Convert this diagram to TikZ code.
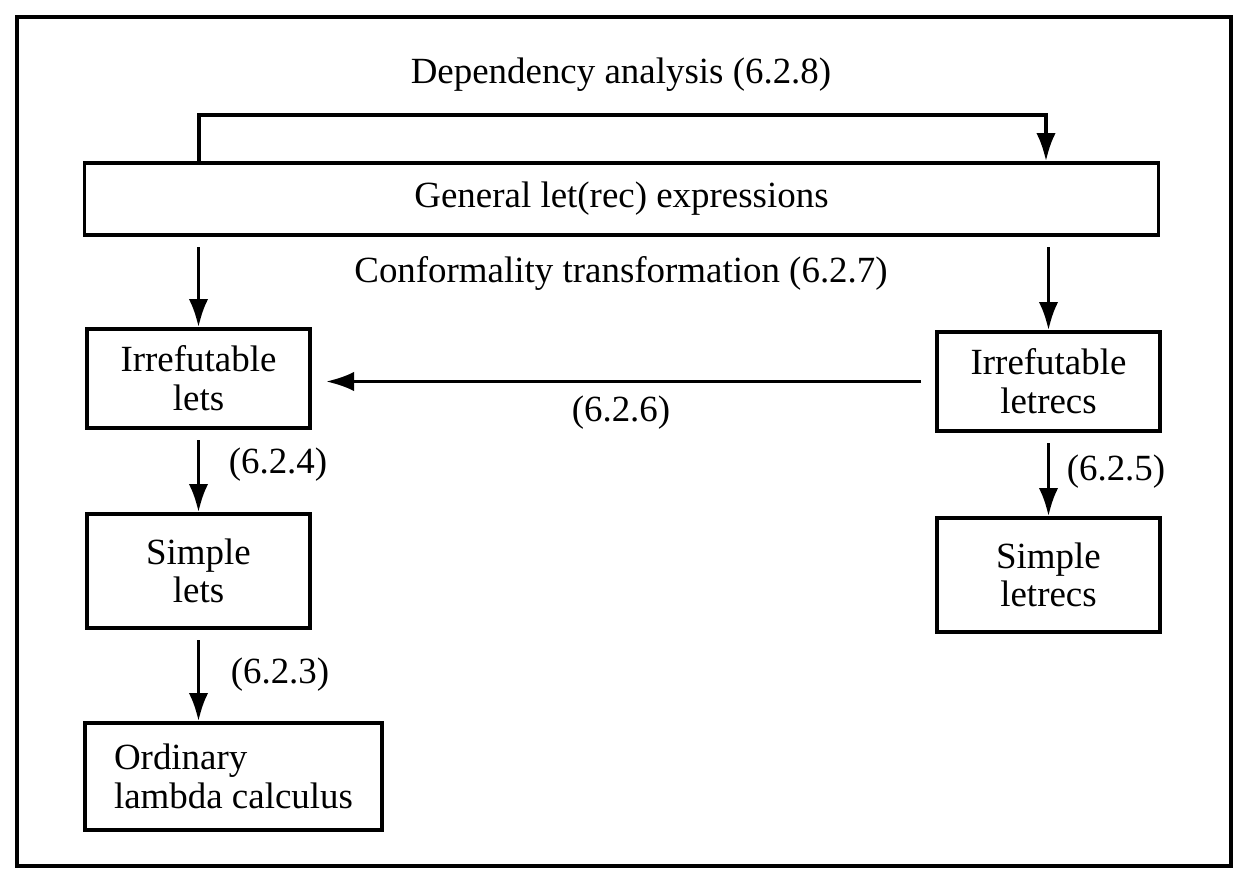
\documentclass[tikz,border=0pt]{standalone}
\usepackage{fontspec}
\setmainfont{Liberation Serif}
\usetikzlibrary{arrows.meta}

\begin{document}
\begin{tikzpicture}[x=0.01cm, y=-0.01cm, line width=1pt,
  >={Latex[length=8pt,width=5.5pt]},
  every node/.style={font=\fontsize{10.5}{11}\selectfont}]
\tikzstyle{stage} = [draw, shape=rectangle, align=center, inner sep=0pt]
\tikzstyle{label} = [draw=none, inner sep=1pt]
\useasboundingbox (0,0) rectangle (1254,891);
\draw [line width=1.1pt] (17,17) rectangle (1231,866);

\node [stage, minimum width=10.73cm, minimum height=0.72cm] (gen) at (621.5,199) {General let(rec) expressions};
\node [stage, minimum width=2.23cm, minimum height=0.99cm] (irl) at (198.5,378.5) {Irrefutable\\lets};
\node [stage, minimum width=2.23cm, minimum height=0.99cm] (irr) at (1048.5,381.5) {Irrefutable\\letrecs};
\node [stage, minimum width=2.23cm, minimum height=1.14cm] (sl) at (198.5,571) {Simple\\lets};
\node [stage, minimum width=2.23cm, minimum height=1.14cm] (slr) at (1048.5,575) {Simple\\letrecs};
\node [stage, align=left, minimum width=2.97cm, minimum height=1.07cm] (ord) at (233.5,776.5) {Ordinary\\lambda calculus};

\node [label] (dep) at (621,75) {Dependency analysis (6.2.8)};
\node [label] (conf) at (621,273) {Conformality transformation (6.2.7)};
\node [label] (l626) at (621,413) {(6.2.6)};
\node [label] (l624) at (278,465) {(6.2.4)};
\node [label] (l623) at (280,675) {(6.2.3)};
\node [label] (l625) at (1116,472) {(6.2.5)};

\coordinate (dl) at (199,115);
\coordinate (dr) at (1046,115);
\draw [->] (gen.north -| dl) -- (dl) -- (dr) -- (gen.north -| dr);

\draw [->, shorten <=3pt] (gen.south -| irl) -- (irl.north);
\draw [->, shorten <=3pt] (gen.south -| irr) -- (irr.north);
\draw [->, shorten <=4pt, shorten >=4pt] (irr.west) -- (irr.west -| irl.east);
\draw [->, shorten <=3pt] (irl.south) -- (sl.north);
\draw [->, shorten <=3pt] (sl.south) -- (sl.south |- ord.north);
\draw [->, shorten <=3pt] (irr.south) -- (slr.north);
\end{tikzpicture}
\end{document}
